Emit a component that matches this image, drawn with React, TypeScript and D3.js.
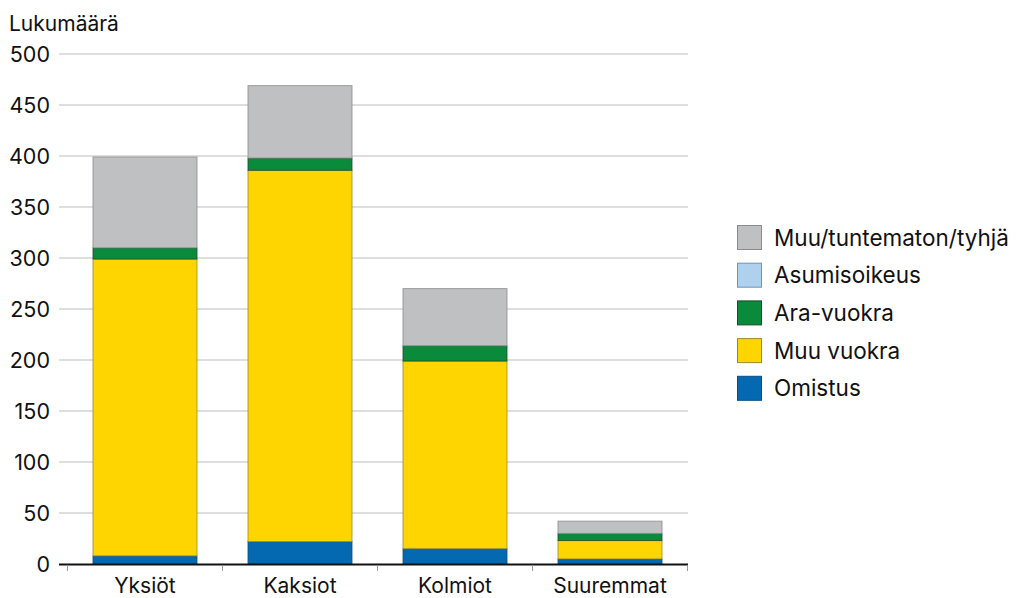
import React from "react";
import * as d3 from "d3";

const categories = ["Yksiöt", "Kaksiot", "Kolmiot", "Suuremmat"];
const seriesNames = ["Omistus", "Muu vuokra", "Ara-vuokra", "Asumisoikeus", "Muu/tuntematon/tyhjä"];
const omistus = [8, 22, 15, 5];
const muuVuokra = [291, 364, 184, 18];
const araVuokra = [11, 12, 15, 7];
const asumisoikeus = [0, 0, 0, 0];
const muuTuntematon = [89, 71, 56, 12];
const yTicks = [0, 50, 100, 150, 200, 250, 300, 350, 400, 450, 500];
const fills = ["#0569B2", "#FFD500", "#0A8A3B", "#AFD1EE", "#BFC0C2"];
const strokes = ["#0B4D80", "#9C8A2A", "#1F4A2E", "#6C93BD", "#8A8B8F"];

const seriesValues = [omistus, muuVuokra, araVuokra, asumisoikeus, muuTuntematon];

export default function App() {
  const W = 1026, H = 598;
  const x = d3.scaleBand().domain(categories).range([67.5, 687.5]).paddingInner(0.329).paddingOuter(0.1645);
  const y = d3.scaleLinear().domain([0, 500]).range([564, 54]);
  const rows = categories.map((c, i) => {
    const r: any = { cat: c };
    seriesNames.forEach((s, k) => (r[s] = seriesValues[k][i]));
    return r;
  });
  const stacked = d3.stack().keys(seriesNames)(rows);
  const font = "Inter, 'Noto Sans', Roboto, sans-serif";
  const legendOrder = [4, 3, 2, 1, 0];
  const boundaries = [0, 1, 2, 3, 4].map((i) => 67.5 + i * 155);
  return (
    <svg width={W} height={H} style={{ position: "absolute", left: 0, top: 0 }} fontFamily={font}>
      <rect width={W} height={H} fill="#fff" />
      {yTicks.map((t) => (
        <g key={t}>
          {t > 0 && <line x1={59} x2={688} y1={y(t)} y2={y(t)} stroke="#bdbdbd" strokeWidth={1} />}
          <text x={50} y={y(t)} dy="0.36em" textAnchor="end" fontSize={21.5} fill="#111">{t}</text>
        </g>
      ))}
      <text x={9} y={31} fontSize={21} fill="#111">Lukumäärä</text>
      {stacked.map((layer, k) => (
        <g key={layer.key}>
          {layer.map((d, i) =>
            d[1] - d[0] > 0 ? (
              <rect
                key={i}
                x={x(categories[i])!}
                width={x.bandwidth()}
                y={y(d[1])}
                height={y(d[0]) - y(d[1])}
                fill={fills[k]}
                stroke={strokes[k]}
                strokeWidth={1}
                strokeOpacity={0.8}
              />
            ) : null
          )}
        </g>
      ))}
      <line x1={59} x2={688} y1={564.5} y2={564.5} stroke="#111" strokeWidth={2} />
      {boundaries.map((b, i) => (
        <line key={i} x1={b} x2={b} y1={565} y2={571} stroke="#999" strokeWidth={1} />
      ))}
      {categories.map((c) => (
        <text key={c} x={x(c)! + x.bandwidth() / 2} y={593} textAnchor="middle" fontSize={21} fill="#111">{c}</text>
      ))}
      {legendOrder.map((k, j) => (
        <g key={k} transform={`translate(737, ${225 + j * 37.7})`}>
          <rect x={0.5} y={0.5} width={24} height={24} fill={fills[k]} stroke={strokes[k]} strokeWidth={1} />
          <text x={37} y={12.5} dy="0.36em" fontSize={22.5} fill="#111">{seriesNames[k]}</text>
        </g>
      ))}
    </svg>
  );
}
